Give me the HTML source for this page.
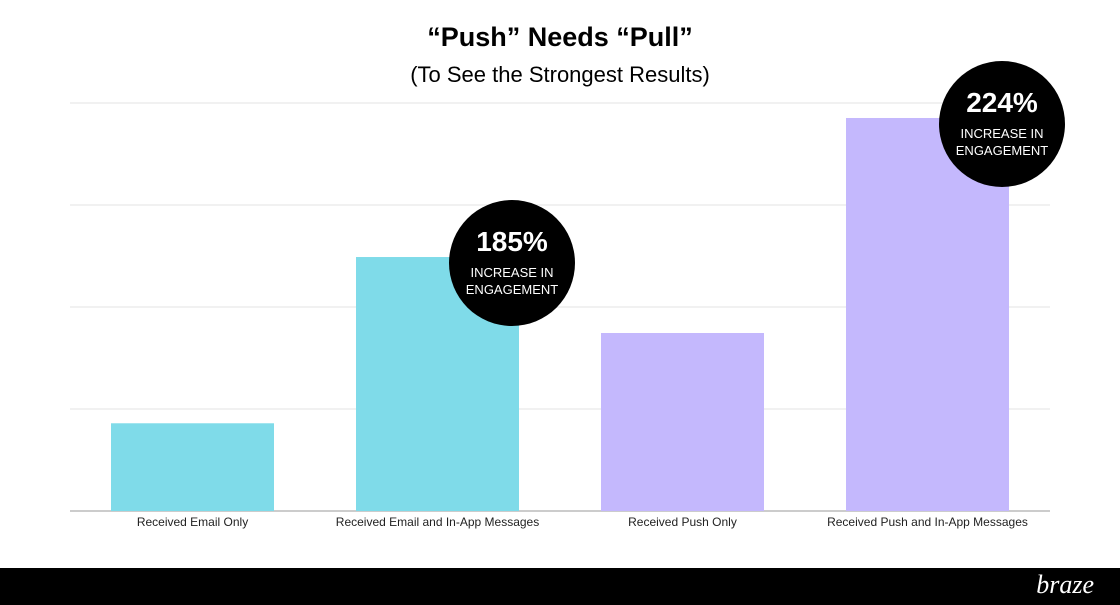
<!DOCTYPE html>
<html><head><meta charset="utf-8">
<style>
body{margin:0;width:1120px;height:605px;background:#fff;font-family:"Liberation Sans",sans-serif;overflow:hidden;position:relative}
.t1{position:absolute;top:22px;left:0;width:1120px;text-align:center;font-size:27px;font-weight:bold;color:#000}
.t2{position:absolute;top:62px;left:0;width:1120px;text-align:center;font-size:22px;color:#000}
.foot{position:absolute;left:0;top:568px;width:1120px;height:37px;background:#000}
.logo{position:absolute;right:26px;top:2px;color:#fff;font-size:26px;font-style:italic;font-family:"Liberation Serif",serif}
</style></head><body>
<div class="t1">“Push” Needs “Pull”</div>
<div class="t2">(To See the Strongest Results)</div>
<svg id="c" width="1120" height="568" style="position:absolute;left:0;top:0"></svg>
<div class="foot"><span class="logo">braze</span></div>
<script>
const categories=["Received Email Only","Received Email and In-App Messages","Received Push Only","Received Push and In-App Messages"];
const values=[0.86,2.49,1.745,3.853];
const colors=["#7fdbe9","#7fdbe9","#c4b8fd","#c4b8fd"];
const badgeLabels=["","185%","","224%"];
const gridTicks=[0,1,2,3,4];
const NS="http://www.w3.org/2000/svg";
const svg=document.getElementById('c');
const x0=70,x1=1050,y0=511,step=102;
const y=v=>y0-v*step;
const band=(x1-x0)/categories.length;
function mk(t,a){const e=document.createElementNS(NS,t);for(const k in a)e.setAttribute(k,a[k]);svg.appendChild(e);return e;}
gridTicks.forEach(t=>{
 const l=mk('line',{x1:x0,x2:x1,y1:y(t),y2:y(t),stroke:t===0?'#999':'#e3e3e3','stroke-width':1});
 
 
});
categories.forEach((c,i)=>{
 const bx=x0+band*i+41,bw=163;
 const r=mk('rect',{x:bx,y:y(values[i]),width:bw,height:y0-y(values[i]),fill:colors[i]});
 
 
 const tx=mk('text',{x:bx+bw/2,y:526,'text-anchor':'middle','font-size':12,fill:'#222'});
 tx.textContent=c;
 
 
 if(badgeLabels[i]){
  const cx=bx+bw-7,cy=y(values[i])+6;
  const ci=mk('circle',{cx:cx,cy:cy,r:63,fill:'#000'});
  
  
  const p=mk('text',{x:cx,y:cy-12,'text-anchor':'middle','font-size':28,'font-weight':'bold',fill:'#fff'});
  p.textContent=badgeLabels[i];
  
  
  const a=mk('text',{x:cx,y:cy+14,'text-anchor':'middle','font-size':13,fill:'#fff'});
  a.textContent='INCREASE IN';
  
  
  const b=mk('text',{x:cx,y:cy+31,'text-anchor':'middle','font-size':13,fill:'#fff'});
  b.textContent='ENGAGEMENT';
  
  
 }
});
</script>
</body></html>
